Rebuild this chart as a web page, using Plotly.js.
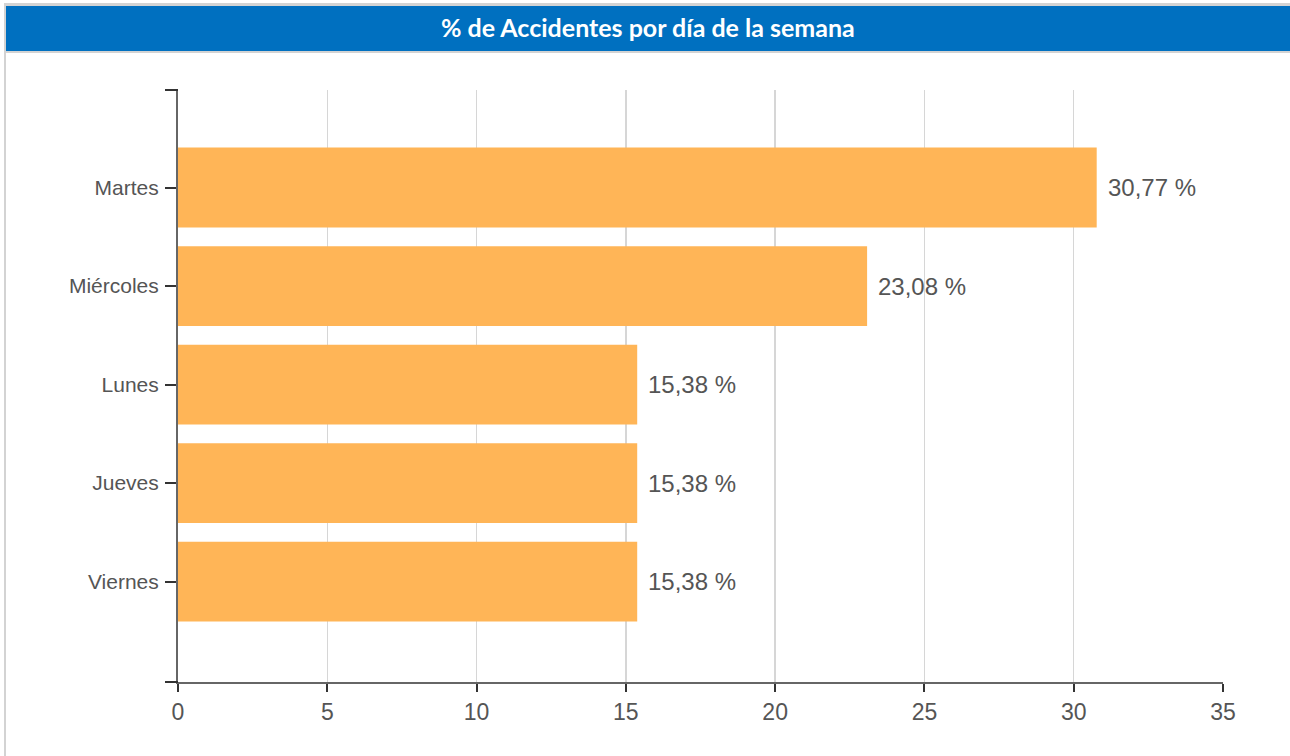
<!DOCTYPE html>
<html>
<head>
<meta charset="utf-8">
<script src="https://cdn.plot.ly/plotly-3.0.1.min.js"></script>
<style>
html,body{margin:0;padding:0;background:#fff;}
#chart{width:1290px;height:756px;}
</style>
</head>
<body>
<div id="chart"></div>
<script>
const chartTitle = '% de Accidentes por día de la semana';
const days = ['Martes', 'Miércoles', 'Lunes', 'Jueves', 'Viernes'];
const percents = [30.77, 23.08, 15.38, 15.38, 15.38];
const percentLabels = ['30,77 %', '23,08 %', '15,38 %', '15,38 %', '15,38 %'];
const xTicks = [0, 5, 10, 15, 20, 25, 30, 35];

const barColor = '#FFB557';
const textColor = '#555555';
const axisFont = 'Arial, "Liberation Sans", sans-serif';

const trace = {
  type: 'bar',
  orientation: 'h',
  x: percents,
  y: days,
  marker: {color: barColor, line: {width: 0}},
  hoverinfo: 'none'
};

const annotations = days.map((d, i) => ({
  x: percents[i], y: d, xref: 'x', yref: 'y',
  text: percentLabels[i], showarrow: false,
  xanchor: 'left', yanchor: 'middle', xshift: 9, yshift: 0,
  font: {family: axisFont, size: 24, color: textColor}
}));

annotations.push({
  xref: 'paper', yref: 'paper', x: 0.4459, y: 1.1039, xshift: 4, yshift: 1,
  xanchor: 'center', yanchor: 'middle',
  text: '<b>' + chartTitle + '</b>', showarrow: false,
  font: {family: 'Lato, "Open Sans", sans-serif', size: 25, color: '#ffffff'}
});

const shapes = [
  // grey frame around header
  {type: 'rect', xref: 'paper', yref: 'paper', xsizemode: 'pixel', ysizemode: 'pixel',
   xanchor: 0, yanchor: 1, x0: -174, x1: 1112, y0: 37, y1: 87,
   fillcolor: '#D3D3D3', line: {width: 0}, layer: 'below'},
  // blue header bar
  {type: 'rect', xref: 'paper', yref: 'paper', xsizemode: 'pixel', ysizemode: 'pixel',
   xanchor: 0, yanchor: 1, x0: -172, x1: 1112, y0: 39, y1: 84,
   fillcolor: '#0070C0', line: {width: 0}, layer: 'below'},
  // left border
  {type: 'line', xref: 'paper', yref: 'paper', xsizemode: 'pixel', ysizemode: 'pixel',
   xanchor: 0, yanchor: 1, x0: -173, x1: -173, y0: 40, y1: -700,
   line: {color: '#D3D3D3', width: 2}, layer: 'below'},
  // top end tick of y axis
  {type: 'line', xref: 'paper', yref: 'paper', xsizemode: 'pixel',
   xanchor: 0, x0: -13, x1: 0, y0: 1, y1: 1,
   line: {color: '#333333', width: 2}},
  // bottom end tick of y axis (x-axis extension)
  {type: 'line', xref: 'paper', yref: 'paper', xsizemode: 'pixel',
   xanchor: 0, x0: -13, x1: 0, y0: 0, y1: 0,
   line: {color: '#333333', width: 2}}
];

const layout = {
  width: 1290, height: 756,
  margin: {l: 178, r: 67, t: 90, b: 74, pad: 0},
  paper_bgcolor: '#ffffff', plot_bgcolor: '#ffffff',
  showlegend: false,
  bargap: 0.19,
  xaxis: {
    range: [0, 35], tickvals: xTicks, ticktext: xTicks.map(String),
    showgrid: true, gridcolor: '#D6D6D6', gridwidth: 1.5,
    zeroline: false, showline: true, linecolor: '#666666', linewidth: 2,
    ticks: 'outside', ticklen: 8, tickwidth: 2, tickcolor: '#333333',
    tickfont: {family: axisFont, size: 23, color: textColor},
    fixedrange: true
  },
  yaxis: {
    type: 'category', categoryorder: 'array', categoryarray: days,
    range: [5.02, -0.99],
    showgrid: false, zeroline: false, showline: true, linecolor: '#666666', linewidth: 2,
    ticks: 'outside', ticklen: 11, tickwidth: 2, tickcolor: '#333333',
    ticklabelstandoff: 2,
    tickfont: {family: axisFont, size: 21, color: textColor},
    fixedrange: true
  },
  annotations: annotations,
  shapes: shapes
};

Plotly.newPlot('chart', [trace], layout, {displayModeBar: false, staticPlot: true});
</script>
</body>
</html>
